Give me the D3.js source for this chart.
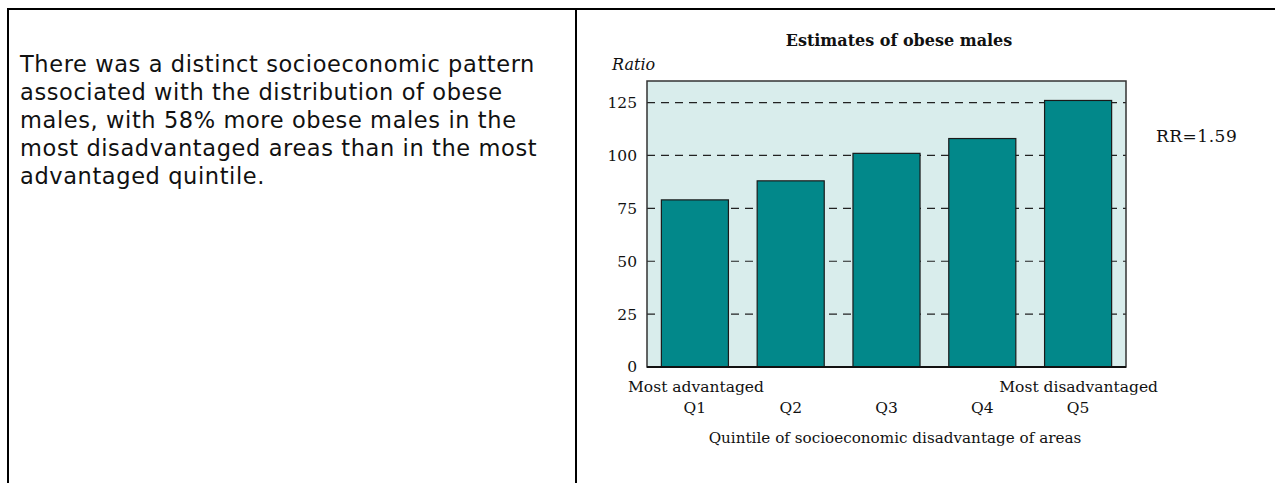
<!DOCTYPE html>
<html>
<head>
<meta charset="utf-8">
<script src="https://cdn.jsdelivr.net/npm/d3@7/dist/d3.min.js"></script>
<style>
html,body{margin:0;padding:0;background:#fff;}
svg{display:block;}
</style>
</head>
<body>
<svg id="c" width="1275" height="483"></svg>
<script>
const categories = ["Q1","Q2","Q3","Q4","Q5"];
const values = [79, 88, 101, 108, 126];
const yTicks = [0, 25, 50, 75, 100, 125];
const paragraph = [
  "There was a distinct socioeconomic pattern",
  "associated with the distribution of obese",
  "males, with 58% more obese males in the",
  "most disadvantaged areas than in the most",
  "advantaged quintile."
];
const title = "Estimates of obese males";
const yLabel = "Ratio";
const xTitle = "Quintile of socioeconomic disadvantage of areas";
const leftEndLabel = "Most advantaged";
const rightEndLabel = "Most disadvantaged";
const rrLabel = "RR=1.59";

const svg = d3.select("#c");
const chartFont = "'DejaVu Serif', serif";
const textFont = "'DejaVu Sans', 'Open Sans', sans-serif";

// Frame lines
svg.append("line").attr("x1",8).attr("x2",1275).attr("y1",9).attr("y2",9).attr("stroke","#000").attr("stroke-width",2);
svg.append("line").attr("x1",8).attr("x2",8).attr("y1",8).attr("y2",483).attr("stroke","#000").attr("stroke-width",2);
svg.append("line").attr("x1",576).attr("x2",576).attr("y1",8).attr("y2",483).attr("stroke","#000").attr("stroke-width",2);

// Paragraph
const para = svg.append("g").selectAll("text").data(paragraph).join("text")
  .attr("x",20).attr("y",(d,i)=>72+i*28)
  .attr("font-family",textFont).attr("font-size",22.5).attr("fill","#111")
  .text(d=>d);
// fit first line width to the reference (~521px), same spacing for all lines
const w0 = para.node().getComputedTextLength();
const ls = Math.max(-0.5, Math.min(0.6, (521 - w0) / (paragraph[0].length - 1)));
para.attr("letter-spacing", ls);

// Chart
const x0 = 647, x1 = 1126, yTop = 81, yBottom = 367;
const x = d3.scaleBand().domain(categories).range([x0,x1]).paddingInner(0.3).paddingOuter(0.15);
const y = d3.scaleLinear().domain([0,135.2]).range([yBottom,yTop]);

svg.append("rect").attr("x",x0).attr("y",yTop).attr("width",x1-x0).attr("height",yBottom-yTop)
  .attr("fill","#d9edec");

// grid
svg.append("g").selectAll("line").data(yTicks.filter(t=>t>0)).join("line")
  .attr("x1",x0).attr("x2",x1).attr("y1",d=>y(d)).attr("y2",d=>y(d))
  .attr("stroke","#222").attr("stroke-width",1.2).attr("stroke-dasharray","8,6");

// bars
svg.append("g").selectAll("rect").data(categories).join("rect")
  .attr("x",d=>x(d)).attr("width",x.bandwidth())
  .attr("y",(d,i)=>y(values[i])).attr("height",(d,i)=>y(0)-y(values[i]))
  .attr("fill","#02888a").attr("stroke","#1a1a1a").attr("stroke-width",1.2);

// plot border
svg.append("rect").attr("x",x0).attr("y",yTop).attr("width",x1-x0).attr("height",yBottom-yTop)
  .attr("fill","none").attr("stroke","#333").attr("stroke-width",1.5);
svg.append("line").attr("x1",x0).attr("x2",x1).attr("y1",yBottom).attr("y2",yBottom).attr("stroke","#111").attr("stroke-width",2);

// y axis labels
const yAxis = d3.axisLeft(y).tickValues(yTicks).tickSize(0).tickPadding(10);
const ga = svg.append("g").attr("transform",`translate(${x0},0)`).call(yAxis);
ga.select(".domain").remove();
ga.selectAll("text").attr("font-family",chartFont).attr("font-size",15.5).attr("fill","#111");

// x axis labels
const xAxis = d3.axisBottom(x).tickSize(0).tickPadding(0);
const gx = svg.append("g").attr("transform",`translate(0,${yBottom})`).call(xAxis);
gx.select(".domain").remove();
gx.selectAll("text").attr("dy",0).attr("y",46).attr("font-family",chartFont).attr("font-size",15.5).attr("fill","#111");

svg.append("text").attr("x",628).attr("y",392).attr("font-family",chartFont).attr("font-size",15.5).attr("fill","#111").text(leftEndLabel);
svg.append("text").attr("x",1158).attr("y",392).attr("text-anchor","end").attr("font-family",chartFont).attr("font-size",15.5).attr("fill","#111").text(rightEndLabel);
svg.append("text").attr("x",895).attr("y",443).attr("text-anchor","middle").attr("font-family",chartFont).attr("font-size",15.2).attr("fill","#111").text(xTitle);

svg.append("text").attr("x",899).attr("y",46).attr("text-anchor","middle").attr("font-family",chartFont).attr("font-weight","bold").attr("font-size",16).attr("fill","#111").text(title);
svg.append("text").attr("x",612).attr("y",70).attr("font-family",chartFont).attr("font-style","italic").attr("font-size",16).attr("fill","#111").text(yLabel);
svg.append("text").attr("x",1156).attr("y",142).attr("font-family",chartFont).attr("font-size",17).attr("letter-spacing",0.5).attr("fill","#111").text(rrLabel);
</script>
</body>
</html>
